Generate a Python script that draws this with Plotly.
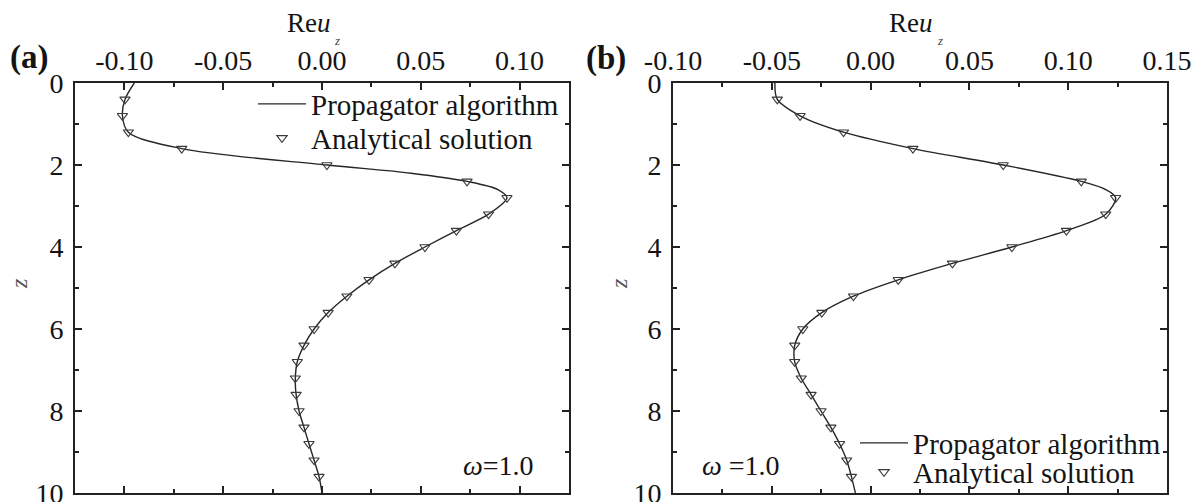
import plotly.graph_objects as go

FONT = "Liberation Serif"
W, H = 1199, 502

# ---------------- data ----------------
z_points = [0.4, 0.8, 1.2, 1.6, 2.0, 2.4, 2.8, 3.2, 3.6, 4.0, 4.4, 4.8,
            5.2, 5.6, 6.0, 6.4, 6.8, 7.2, 7.6, 8.0, 8.4, 8.8, 9.2, 9.6]

# panel (a)
a_analytical = [-0.0997, -0.1010, -0.0980, -0.0710, 0.0025, 0.0734, 0.0936, 0.0843,
                0.0680, 0.0521, 0.0369, 0.0238, 0.0126, 0.0031, -0.0040, -0.0091,
                -0.0125, -0.0135, -0.0131, -0.0116, -0.0091, -0.0066, -0.0040, -0.0015]
z_line_a = [0.0, 0.4, 0.8, 1.2, 1.6, 2.0, 2.2, 2.4, 2.6, 2.8, 3.2, 3.6, 4.0, 4.4, 4.8,
            5.2, 5.6, 6.0, 6.4, 6.8, 7.2, 7.6, 8.0, 8.4, 8.8, 9.2, 9.6, 10.0]
a_propagator = [-0.0950, -0.0997, -0.1010, -0.0980, -0.0710, 0.0025, 0.0450, 0.0734,
                0.0890, 0.0936, 0.0843, 0.0680, 0.0521, 0.0369, 0.0238, 0.0126, 0.0031,
                -0.0040, -0.0091, -0.0125, -0.0135, -0.0131, -0.0116, -0.0091, -0.0066,
                -0.0040, -0.0015, 0.0000]

# panel (b)
b_analytical = [-0.0472, -0.0357, -0.0137, 0.0214, 0.0671, 0.1066, 0.1240, 0.1190,
                0.0991, 0.0715, 0.0414, 0.0140, -0.0087, -0.0247, -0.0343, -0.0384,
                -0.0384, -0.0351, -0.0301, -0.0251, -0.0201, -0.0157, -0.0121, -0.0097]
z_line_b = [0.0, 0.4, 0.8, 1.2, 1.6, 2.0, 2.4, 2.6, 2.8, 3.2, 3.6, 4.0, 4.4, 4.8,
            5.2, 5.6, 6.0, 6.4, 6.8, 7.2, 7.6, 8.0, 8.4, 8.8, 9.2, 9.6, 10.0]
b_propagator = [-0.0484, -0.0472, -0.0357, -0.0137, 0.0214, 0.0671, 0.1066, 0.1190,
                0.1240, 0.1190, 0.0991, 0.0715, 0.0414, 0.0140, -0.0087, -0.0247,
                -0.0343, -0.0384, -0.0384, -0.0351, -0.0301, -0.0251, -0.0201, -0.0157,
                -0.0121, -0.0097, -0.0077]

# axes ticks
xticks_a = [-0.10, -0.05, 0.00, 0.05, 0.10]
xticktext_a = ["-0.10", "-0.05", "0.00", "0.05", "0.10"]
xminor_a = [-0.075, -0.025, 0.025, 0.075]
xrange_a = [-0.125, 0.125]

xticks_b = [-0.10, -0.05, 0.00, 0.05, 0.10, 0.15]
xticktext_b = ["-0.10", "-0.05", "0.00", "0.05", "0.10", "0.15"]
xminor_b = [-0.075, -0.025, 0.025, 0.075, 0.125]
xrange_b = [-0.10, 0.15]

yticks = [0, 2, 4, 6, 8, 10]
yticktext = ["0", "2", "4", "6", "8", "10"]
yminor = [1, 3, 5, 7, 9]
yrange = [10, 0]

legend_labels = ["Propagator algorithm", "Analytical solution"]

# ---------------- geometry (pixels) ----------------
def px(x):
    return x / W

def py(y):
    return 1 - y / H

dom_a = [px(75), px(569)]
dom_b = [px(673), px(1167)]
dom_y = [py(493), py(83)]

LINE_COLOR = "#262626"
MARK_COLOR = "#3a3a3a"
TXT = "#141414"

fig = go.Figure()

fig.add_trace(go.Scatter(x=a_propagator, y=z_line_a, mode="lines", name=legend_labels[0],
                         line=dict(color=LINE_COLOR, width=1.4, shape="spline", smoothing=0.9),
                         xaxis="x", yaxis="y", legend="legend"))
fig.add_trace(go.Scatter(x=a_analytical, y=z_points, mode="markers", name=legend_labels[1],
                         marker=dict(symbol="triangle-down-open", size=9, color=MARK_COLOR,
                                     line=dict(width=1.1, color=MARK_COLOR)),
                         xaxis="x", yaxis="y", legend="legend3"))
fig.add_trace(go.Scatter(x=b_propagator, y=z_line_b, mode="lines", name=legend_labels[0],
                         line=dict(color=LINE_COLOR, width=1.4, shape="spline", smoothing=0.9),
                         xaxis="x2", yaxis="y2", legend="legend2"))
fig.add_trace(go.Scatter(x=b_analytical, y=z_points, mode="markers", name=legend_labels[1],
                         marker=dict(symbol="triangle-down-open", size=9, color=MARK_COLOR,
                                     line=dict(width=1.1, color=MARK_COLOR)),
                         xaxis="x2", yaxis="y2", legend="legend4"))

tickfont = dict(family=FONT, size=28, color=TXT)


def xaxis(domain, rng, tv, tt, minor, anchor):
    return dict(domain=domain, range=rng, side="top", anchor=anchor,
                tickmode="array", tickvals=tv, ticktext=tt,
                ticks="inside", ticklen=7, tickwidth=1.5, tickcolor="#222",
                showline=True, linewidth=2, linecolor="#222", mirror="ticks",
                showgrid=False, zeroline=False, tickfont=tickfont,
                minor=dict(tickmode="array", tickvals=minor, ticks="inside",
                           ticklen=4, tickwidth=1.5, tickcolor="#222", showgrid=False),
                automargin=False, ticklabelstandoff=0, ticklabeloverflow="allow",
                fixedrange=True)


def yaxis(domain, anchor):
    return dict(domain=domain, range=yrange, anchor=anchor,
                tickmode="array", tickvals=yticks, ticktext=yticktext,
                ticks="inside", ticklen=7, tickwidth=1.5, tickcolor="#222",
                showline=True, linewidth=2, linecolor="#222", mirror="ticks",
                showgrid=False, zeroline=False, tickfont=tickfont,
                minor=dict(tickmode="array", tickvals=yminor, ticks="inside",
                           ticklen=4, tickwidth=1.5, tickcolor="#222", showgrid=False),
                automargin=False, ticklabelstandoff=4, ticklabeloverflow="allow",
                fixedrange=True)


def legend_at(xl, yc):
    return dict(x=px(xl), y=py(yc), xanchor="left", yanchor="middle",
                bgcolor="rgba(0,0,0,0)", borderwidth=0, itemwidth=48,
                font=dict(family=FONT, size=29, color=TXT), valign="middle")


def note(text, x, y, size, color=TXT, angle=0):
    return dict(text=text, x=px(x), y=py(y), xref="paper", yref="paper",
                xanchor="center", yanchor="middle", textangle=angle,
                showarrow=False, font=dict(family=FONT, size=size, color=color))


annotations = [
    note("<b>(a)</b>", 29, 57, 33),
    note("<b>(b)</b>", 606, 58, 33),
    note("Re<i>u</i>", 309, 23, 27),
    note("<i>z</i>", 337, 40, 13, "#444"),
    note("Re<i>u</i>", 911, 23, 27),
    note("<i>z</i>", 940, 40, 13, "#444"),
    note("<i>z</i>", 19, 284, 24, "#555", -90),
    note("<i>z</i>", 619, 284, 24, "#555", -90),
    note("<i>ω</i>=1.0", 498, 465, 28),
    note("<i>ω</i> =1.0", 741, 465, 28),
]

fig.update_layout(
    width=W, height=H, margin=dict(l=0, r=0, t=0, b=0),
    paper_bgcolor="white", plot_bgcolor="white",
    showlegend=True,
    xaxis=xaxis(dom_a, xrange_a, xticks_a, xticktext_a, xminor_a, "y"),
    yaxis=yaxis(dom_y, "x"),
    xaxis2=xaxis(dom_b, xrange_b, xticks_b, xticktext_b, xminor_b, "y2"),
    yaxis2=yaxis(dom_y, "x2"),
    legend=legend_at(253, 104),
    legend3=legend_at(253, 138),
    legend2=legend_at(855, 443),
    legend4=legend_at(855, 472),
    annotations=annotations,
    font=dict(family=FONT, color=TXT),
)

fig.write_html("out.html",
               config={"displayModeBar": False},
               post_script="document.body.style.margin='0';document.body.style.overflow='hidden';")
